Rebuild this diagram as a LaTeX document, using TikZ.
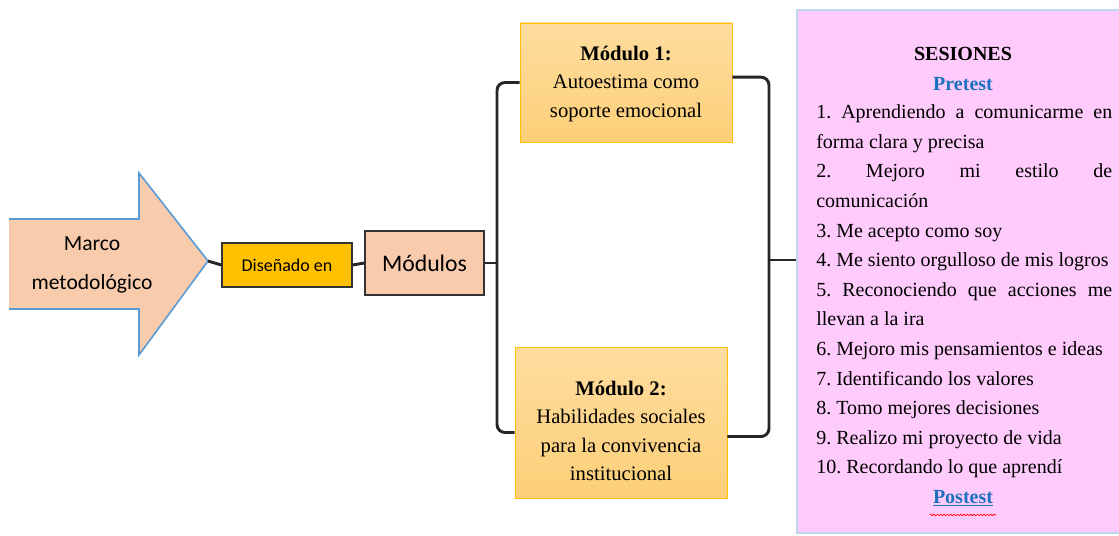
\documentclass[tikz,border=0pt]{standalone}
\usepackage{fontspec}
\setmainfont{Liberation Serif}
\newfontfamily\calibri{Carlito}
\usetikzlibrary{decorations.pathmorphing}
\definecolor{durazno}{HTML}{F8CBAD}
\definecolor{flecha}{HTML}{5B9BD5}
\definecolor{oro}{HTML}{FFC000}
\definecolor{modarriba}{HTML}{FFDDA0}
\definecolor{modabajo}{HTML}{FCCF78}
\definecolor{rosa}{HTML}{FFCBFC}
\definecolor{bordeses}{HTML}{BDD7EE}
\definecolor{azultit}{HTML}{1C72C0}
\newcommand{\espnat}{\spaceskip=0pt\xspaceskip=0pt}
\newcommand{\justa}[1]{\makebox[222pt][s]{#1}}
\tikzset{
  conn/.style={line width=2.2pt, black!85},
  caja/.style={draw=black!80, line width=1pt, inner sep=0pt},
  modulo/.style={draw=oro, line width=.6pt, top color=modarriba, bottom color=modabajo, inner sep=0pt},
  txtmod/.style={align=center, font=\fontsize{15.5}{21.4}\selectfont},
  txtses/.style={font=\fontsize{15}{22.2}\selectfont}
}
\begin{document}
\frenchspacing
\begin{tikzpicture}[x=0.75pt,y=-0.75pt]
\useasboundingbox (0,0) rectangle (1119,535);
\fill[white] (0,0) rectangle (1119,535);

\draw[fill=durazno, draw=flecha, line width=1.2pt]
  (9,219) -- (139,219) -- (139,173) -- (208,261) -- (139,355) -- (139,309) -- (9,309);
\coordinate (punta) at (208,261);
\node[align=center, font=\calibri\fontsize{16.2}{29}\selectfont] (marco) at (92,265) {Marco\\metodológico};

\node[caja, fill=oro, minimum width=130*0.75pt, minimum height=44*0.75pt,
  font=\calibri\fontsize{13.5}{14}\selectfont] (diseno) at (287,265) {Diseñado en};
\node[caja, fill=durazno, minimum width=119*0.75pt, minimum height=64*0.75pt,
  font=\calibri\fontsize{17.8}{20}\selectfont] (modulos) at (424.5,263) {Módulos};

\node[modulo, minimum width=212*0.75pt, minimum height=119*0.75pt] (mod1) at (626,82.5) {};
\node[txtmod] (mod1t) at (626,84) {\espnat\textbf{Módulo 1:}\\Autoestima como\\soporte emocional};
\node[modulo, minimum width=212*0.75pt, minimum height=151*0.75pt] (mod2) at (621,422.5) {};
\node[txtmod] (mod2t) at (621,431) {\espnat\textbf{Módulo 2:}\\Habilidades sociales\\para la convivencia\\institucional};

\node[draw=bordeses, line width=.8pt, fill=rosa, minimum width=340*0.75pt,
  minimum height=523*0.75pt, inner sep=0pt] (ses) at (967,271.5) {};

\coordinate (bizq) at (497,263);
\coordinate (bder) at (769,260);
\draw[conn] (punta) -- (diseno.west);
\draw[conn] (diseno.east) -- (modulos.west);
\draw[conn] (modulos.east) -- (bizq);
\draw[conn, rounded corners=6pt] (mod1.west) -| (bizq) |- ([yshift=-7.5pt]mod2.west);
\draw[conn, rounded corners=6pt] ([yshift=4pt]mod1.east) -| (bder) |- ([yshift=-10.5pt]mod2.east);
\draw[conn] (bder) -- (ses.west |- bder);

\node[txtses, font=\bfseries\fontsize{15}{22}\selectfont] (titulo) at (963,54) {SESIONES};
\node[txtses, font=\bfseries\fontsize{15}{22}\selectfont, text=azultit] (pre) at (963,84) {Pretest};
\node[txtses, text width=222pt, align=left, inner sep=0pt, anchor=north west] (lista) at (816,104.5)
{\espnat\justa{1. Aprendiendo a comunicarme en}\\
forma clara y precisa\\
\justa{2. Mejoro mi estilo de}\\
comunicación\\
3. Me acepto como soy\\
4. Me siento orgulloso de mis logros\\
\justa{5. Reconociendo que acciones me}\\
llevan a la ira\\
6. Mejoro mis pensamientos e ideas\\
7. Identificando los valores\\
8. Tomo mejores decisiones\\
9. Realizo mi proyecto de vida\\
10. Recordando lo que aprendí};
\node[txtses, font=\bfseries\fontsize{15}{22}\selectfont, text=azultit] (post) at (963,498) {\underline{Postest}};
\draw[red, line width=.5pt, decorate, decoration={snake, amplitude=.6pt, segment length=2.5pt}]
  ([xshift=1pt,yshift=-3.2pt]post.south west) -- ([xshift=-1pt,yshift=-3.2pt]post.south east);
\end{tikzpicture}
\end{document}
